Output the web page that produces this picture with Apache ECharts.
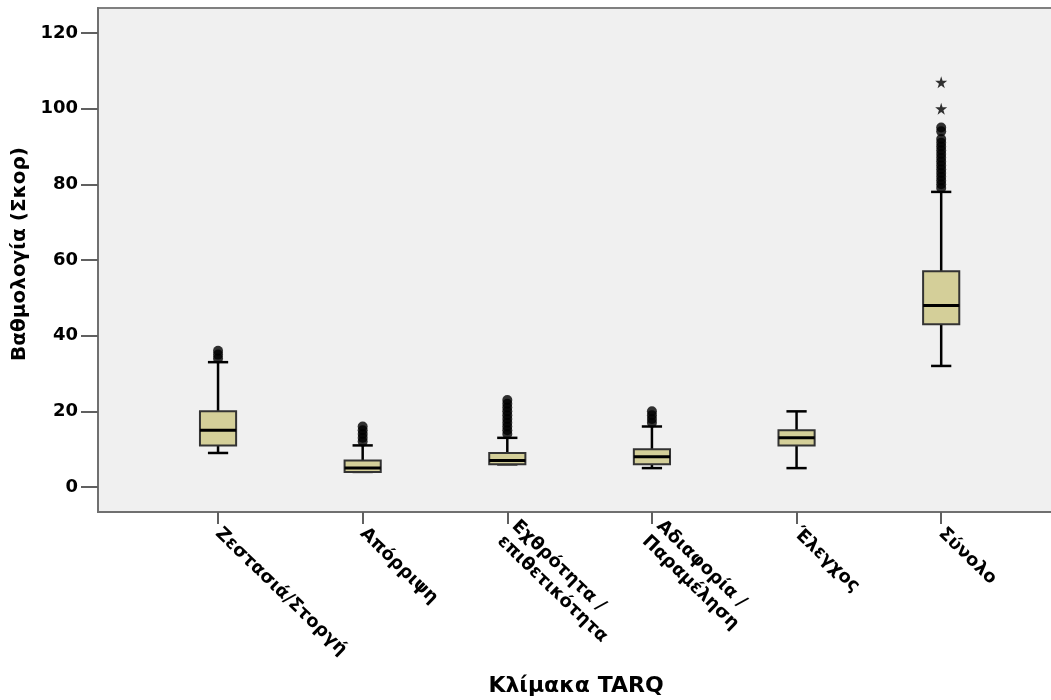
<!DOCTYPE html>
<html>
<head>
<meta charset="utf-8">
<script src="https://cdn.jsdelivr.net/npm/echarts@6/dist/echarts.min.js"></script>
<style>html,body{margin:0;padding:0;background:#fff;}#c{width:1051px;height:700px;}</style>
</head>
<body>
<div id="c"></div>
<script>
const categories = ['Ζεστασιά/Στοργή', 'Απόρριψη', 'Εχθρότητα /\nεπιθετικότητα', 'Αδιαφορία /\nΠαραμέληση', 'Έλεγχος', 'Σύνολο'];
const lowWhisker = [9, 4, 6, 5, 5, 32];
const q1 = [11, 4, 6, 6, 11, 43];
const median = [15, 5, 7, 8, 13, 48];
const q3 = [20, 7, 9, 10, 15, 57];
const highWhisker = [33, 11, 13, 16, 20, 78];
const outliers = [
  [0, 34], [0, 35], [0, 36],
  [1, 12], [1, 13], [1, 14], [1, 15], [1, 16],
  [2, 14], [2, 15], [2, 16], [2, 17], [2, 18], [2, 19], [2, 20], [2, 21], [2, 22], [2, 23],
  [3, 17], [3, 18], [3, 19], [3, 20],
  [5, 79], [5, 80], [5, 81], [5, 82], [5, 83], [5, 84], [5, 85], [5, 86], [5, 87], [5, 88], [5, 89], [5, 90], [5, 91], [5, 92], [5, 94], [5, 95]
];
const extremes = [[5, 100], [5, 107]];
const yTicks = [0, 20, 40, 60, 80, 100, 120];
const xTicks = [0, 1, 2, 3, 4, 5];

const FONT = "'DejaVu Sans', 'Liberation Sans', Arial, sans-serif";
const boxData = categories.map((c, i) => [i, lowWhisker[i], q1[i], median[i], q3[i], highWhisker[i]]);

const chart = echarts.init(document.getElementById('c'), null, {renderer: 'canvas'});
chart.setOption({
  animation: false,
  backgroundColor: '#ffffff',
  grid: {left: 98, top: 8, right: -3, bottom: 188, outerBoundsMode: 'none', containLabel: false,
    show: true, backgroundColor: '#f0f0f0', borderColor: '#808080', borderWidth: 2},
  xAxis: {
    type: 'value', min: -0.83, max: 5.78,
    splitLine: {show: false},
    axisLine: {show: true, onZero: false, lineStyle: {color: '#707070', width: 2}},
    axisTick: {show: true, customValues: xTicks, length: 12, lineStyle: {color: '#606060', width: 2}},
    axisLabel: {customValues: xTicks, rotate: -44, margin: 19, color: '#000', fontFamily: FONT, fontWeight: 'bold', fontSize: 18, lineHeight: 21,
      formatter: v => categories[Math.round(v)]},
    name: 'Κλίμακα TARQ', nameLocation: 'middle', nameGap: 163,
    nameTextStyle: {color: '#000', fontFamily: FONT, fontWeight: 'bold', fontSize: 22}
  },
  yAxis: {
    type: 'value', min: -6.6, max: 126.6,
    splitLine: {show: false},
    axisLine: {show: true, onZero: false, lineStyle: {color: '#707070', width: 2}},
    axisTick: {show: true, customValues: yTicks, length: 17, lineStyle: {color: '#606060', width: 2}},
    axisLabel: {customValues: yTicks, margin: 20, color: '#000', fontFamily: FONT, fontWeight: 'bold', fontSize: 18},
    name: 'Βαθμολογία (Σκορ)', nameLocation: 'middle', nameGap: 60,
    nameTextStyle: {color: '#000', fontFamily: FONT, fontWeight: 'bold', fontSize: 20, padding: [0, 0, 0, 12]}
  },
  series: [
    {
      type: 'custom', data: boxData, z: 3,
      renderItem: function (params, api) {
        const i = api.value(0);
        const band = api.size([1, 0])[0];
        const bw = band * 0.25;
        const cw = band * 0.14;
        const pLow = api.coord([i, api.value(1)]);
        const pQ1 = api.coord([i, api.value(2)]);
        const pMed = api.coord([i, api.value(3)]);
        const pQ3 = api.coord([i, api.value(4)]);
        const pHigh = api.coord([i, api.value(5)]);
        const x = pMed[0];
        const wl = {stroke: '#000', lineWidth: 2.5};
        return {
          type: 'group',
          children: [
            {type: 'line', shape: {x1: x, y1: pQ3[1], x2: x, y2: pHigh[1]}, style: wl},
            {type: 'line', shape: {x1: x, y1: pQ1[1], x2: x, y2: pLow[1]}, style: wl},
            {type: 'line', shape: {x1: x - cw / 2, y1: pHigh[1], x2: x + cw / 2, y2: pHigh[1]}, style: wl},
            {type: 'line', shape: {x1: x - cw / 2, y1: pLow[1], x2: x + cw / 2, y2: pLow[1]}, style: wl},
            {type: 'rect', shape: {x: x - bw / 2, y: pQ3[1], width: bw, height: pQ1[1] - pQ3[1]},
              style: {fill: '#d4cf99', stroke: '#333333', lineWidth: 2}},
            {type: 'line', shape: {x1: x - bw / 2, y1: pMed[1], x2: x + bw / 2, y2: pMed[1]}, style: {stroke: '#000', lineWidth: 3}}
          ]
        };
      }
    },
    {
      type: 'scatter', data: outliers, z: 4,
      symbol: 'circle', symbolSize: 10, itemStyle: {color: '#000'}
    },
    {
      type: 'scatter', data: extremes, z: 4,
      symbol: 'path://M50,0 L61,35 L98,35 L68,57 L79,91 L50,70 L21,91 L32,57 L2,35 L39,35 Z',
      symbolSize: 12, itemStyle: {color: '#000'}
    }
  ]
});
</script>
</body>
</html>
